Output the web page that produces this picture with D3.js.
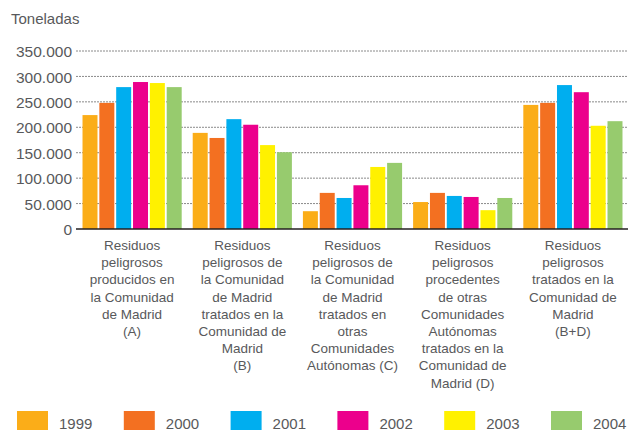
<!DOCTYPE html>
<html>
<head>
<meta charset="utf-8">
<script src="https://cdn.jsdelivr.net/npm/d3@7"></script>
<style>
  body { margin: 0; background: #fff; }
  svg { display: block; font-family: "Liberation Sans", Arial, sans-serif; }
</style>
</head>
<body>
<svg id="chart" width="628" height="432"></svg>
<script>
// categories (label lines as in the picture)
const categories = ["A", "B", "C", "D", "BD"];
const categoryLabels = [
  ["Residuos", "peligrosos", "producidos en", "la Comunidad", "de Madrid", "(A)"],
  ["Residuos", "peligrosos de", "la Comunidad", "de Madrid", "tratados en la", "Comunidad de", "Madrid", "(B)"],
  ["Residuos", "peligrosos de", "la Comunidad", "de Madrid", "tratados en", "otras", "Comunidades", "Autónomas (C)"],
  ["Residuos", "peligrosos", "procedentes", "de otras", "Comunidades", "Autónomas", "tratados en la", "Comunidad de", "Madrid (D)"],
  ["Residuos", "peligrosos", "tratados en la", "Comunidad de", "Madrid", "(B+D)"]
];
const years = ["1999", "2000", "2001", "2002", "2003", "2004"];
const colors = ["#fbad18", "#f37021", "#00aeef", "#ec008c", "#fff100", "#97cb6e"];

// tonnes per year, one array per category
const valuesA  = [224000, 248000, 279000, 289000, 287000, 279000];
const valuesB  = [189000, 179000, 216000, 205000, 165000, 151000];
const valuesC  = [35000, 71000, 61000, 86000, 122000, 130000];
const valuesD  = [53000, 71000, 65000, 63000, 37000, 61000];
const valuesBD = [244000, 248000, 283000, 269000, 203000, 212000];
const seriesValues = [valuesA, valuesB, valuesC, valuesD, valuesBD];

const yTicks = [0, 50000, 100000, 150000, 200000, 250000, 300000, 350000];

const svg = d3.select("#chart");
const textColor = "#58595b";

const plotLeft = 77, plotRight = 628, plotTop = 51, plotBottom = 229;

const x0 = d3.scaleBand().domain(categories).range([plotLeft, plotRight])
  .paddingInner(0.1).paddingOuter(0.05);
const x1 = d3.scaleBand().domain(years).range([0, x0.bandwidth()])
  .paddingInner(0.11).paddingOuter(0);
const y = d3.scaleLinear().domain([0, 350000]).range([plotBottom, plotTop]);

const locale = d3.formatLocale({ decimal: ",", thousands: ".", grouping: [3] });
const fmt = locale.format(",");

// gridlines
svg.append("g")
  .selectAll("line")
  .data(yTicks.filter(d => d > 0))
  .enter()
  .append("line")
  .attr("x1", plotLeft - 1)
  .attr("x2", plotRight)
  .attr("y1", d => y(d))
  .attr("y2", d => y(d))
  .attr("stroke", "#8a8a8a")
  .attr("stroke-width", 1)
  .attr("stroke-dasharray", "2,1");

// y axis labels
const yAxis = svg.append("g")
  .attr("transform", `translate(${plotLeft - 5},0)`)
  .call(d3.axisLeft(y).tickValues(yTicks).tickFormat(d => fmt(d)).tickSize(0).tickPadding(0));
yAxis.select(".domain").remove();
yAxis.selectAll("text")
  .attr("fill", textColor)
  .style("font-size", "15.5px")
  .attr("dy", "0.36em");

svg.append("text")
  .attr("x", 11)
  .attr("y", 24)
  .attr("fill", textColor)
  .style("font-size", "15px")
  .text("Toneladas");

// bars
const groups = svg.append("g")
  .selectAll("g")
  .data(categories)
  .enter()
  .append("g")
  .attr("transform", d => `translate(${x0(d)},0)`);

groups.selectAll("rect")
  .data((d, i) => seriesValues[i].map((v, j) => ({ year: years[j], value: v, color: colors[j] })))
  .enter()
  .append("rect")
  .attr("x", d => x1(d.year))
  .attr("width", x1.bandwidth())
  .attr("y", d => y(d.value))
  .attr("height", d => y(0) - y(d.value))
  .attr("fill", d => d.color);

// baseline
svg.append("line")
  .attr("x1", plotLeft - 1)
  .attr("x2", plotRight)
  .attr("y1", y(0))
  .attr("y2", y(0))
  .attr("stroke", "#231f20")
  .attr("stroke-width", 1.5);

// category labels
const labels = svg.append("g")
  .selectAll("text")
  .data(categories)
  .enter()
  .append("text")
  .attr("x", d => x0(d) + x0.bandwidth() / 2)
  .attr("y", 250)
  .attr("text-anchor", "middle")
  .attr("fill", textColor)
  .style("font-size", "13.5px");

labels.selectAll("tspan")
  .data((d, i) => categoryLabels[i])
  .enter()
  .append("tspan")
  .attr("x", function () { return d3.select(this.parentNode).attr("x"); })
  .attr("dy", (d, i) => (i === 0 ? 0 : 17.2))
  .text(d => d);

// legend
const legendX = d3.scalePoint().domain(years).range([17, 551]);
const legend = svg.append("g")
  .selectAll("g")
  .data(years)
  .enter()
  .append("g")
  .attr("transform", d => `translate(${legendX(d)},411)`);

legend.append("rect")
  .attr("width", 31)
  .attr("height", 19)
  .attr("fill", (d, i) => colors[i]);

legend.append("text")
  .attr("x", 42)
  .attr("y", 18)
  .attr("fill", textColor)
  .style("font-size", "15px")
  .text(d => d);
</script>
</body>
</html>
